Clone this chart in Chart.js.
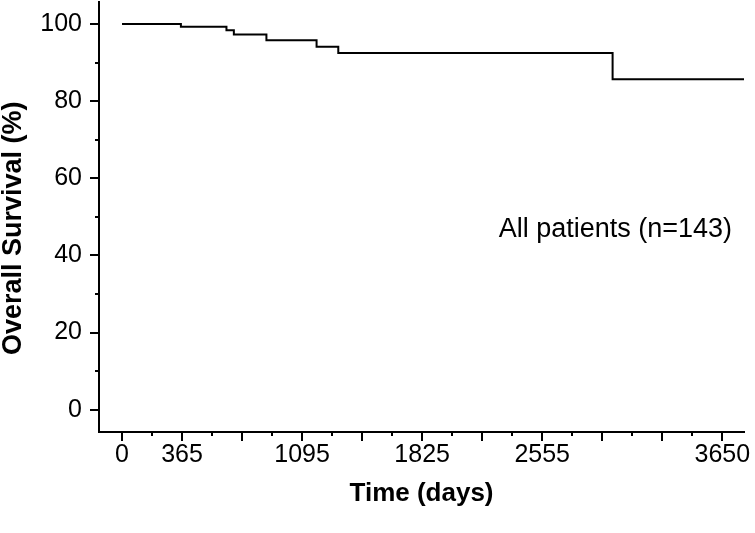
<!DOCTYPE html>
<html>
<head>
<meta charset="utf-8">
<script src="https://cdn.jsdelivr.net/npm/chart.js@4.4.1/dist/chart.umd.min.js"></script>
<style>
    html, body { margin: 0; padding: 0; background: #fff; }
    #wrap { width: 755px; height: 533px; position: relative; }
</style>
</head>
<body>
<div id="wrap"><canvas id="km"></canvas></div>
<script>
// Kaplan-Meier steps (time in days, survival in %)
const times = [0, 358, 635, 680, 878, 1183, 1315, 2983, 3782];
const survival = [100, 99.3, 98.4, 97.3, 95.8, 94.1, 92.5, 85.7, 85.7];

// axis ticks
const xMajorTicks = [0, 365, 730, 1095, 1460, 1825, 2190, 2555, 2920, 3285, 3650];
const xMinorTicks = [182.5, 547.5, 912.5, 1277.5, 1642.5, 2007.5, 2372.5, 2737.5, 3102.5, 3467.5];
const xLabelValues = [0, 365, 1095, 1825, 2555, 3650];
const yMajorTicks = [0, 20, 40, 60, 80, 100];
const yMinorTicks = [10, 30, 50, 70, 90];

const annotationText = "All patients (n=143)";
const annotationAt = [2290, 46.8];

const FONT = "'Liberation Sans', Arial, Helvetica, sans-serif";

// dibuja las marcas de los ejes (mayores y menores) y el texto
const axisMarks = {
    id: 'axisMarks',
    afterDraw(chart) {
        const { ctx, scales: { x, y }, chartArea } = chart;
        ctx.save();
        ctx.strokeStyle = '#000';
        ctx.lineWidth = 2;
        ctx.beginPath();
        xMajorTicks.forEach(v => {
            const px = Math.round(x.getPixelForValue(v));
            ctx.moveTo(px, chartArea.bottom);
            ctx.lineTo(px, chartArea.bottom + 9);
        });
        xMinorTicks.forEach(v => {
            const px = Math.round(x.getPixelForValue(v));
            ctx.moveTo(px, chartArea.bottom);
            ctx.lineTo(px, chartArea.bottom + 4);
        });
        yMajorTicks.forEach(v => {
            const py = Math.round(y.getPixelForValue(v));
            ctx.moveTo(chartArea.left, py);
            ctx.lineTo(chartArea.left - 9, py);
        });
        yMinorTicks.forEach(v => {
            const py = Math.round(y.getPixelForValue(v));
            ctx.moveTo(chartArea.left, py);
            ctx.lineTo(chartArea.left - 4, py);
        });
        ctx.stroke();

        ctx.fillStyle = '#000';
        ctx.font = "27px " + FONT;
        ctx.textAlign = 'left';
        ctx.textBaseline = 'middle';
        ctx.fillText(annotationText, x.getPixelForValue(annotationAt[0]), y.getPixelForValue(annotationAt[1]));
        ctx.restore();
    }
};

new Chart(document.getElementById('km'), {
    type: 'line',
    data: {
        datasets: [{
            label: 'All patients',
            data: times.map((t, i) => ({ x: t, y: survival[i] })),
            stepped: true,
            borderColor: '#000',
            borderWidth: 2,
            pointRadius: 0,
            fill: false
        }]
    },
    options: {
        responsive: true,
        maintainAspectRatio: false,
        animation: false,
        layout: { padding: { top: 2, right: 11, left: 0, bottom: 0 } },
        plugins: {
            legend: { display: false },
            tooltip: { enabled: false }
        },
        scales: {
            x: {
                type: 'linear',
                min: -140,
                max: 3782,
                afterBuildTicks: s => { s.ticks = xMajorTicks.map(v => ({ value: v })); },
                afterFit: s => { s.height = 101; s.paddingLeft = 0; s.paddingRight = 0; },
                grid: { display: false, drawTicks: true, tickLength: 8 },
                border: { display: true, color: '#000', width: 2 },
                ticks: {
                    autoSkip: false,
                    maxRotation: 0,
                    padding: 0,
                    color: '#000',
                    font: { family: FONT, size: 25 },
                    callback: v => xLabelValues.includes(v) ? String(v) : ''
                },
                title: {
                    display: true,
                    text: 'Time (days)',
                    color: '#000',
                    font: { family: FONT, size: 26, weight: 'bold', lineHeight: 1 },
                    padding: { top: 0, bottom: 26 }
                }
            },
            y: {
                min: -5.8,
                max: 105.7,
                afterBuildTicks: s => { s.ticks = yMajorTicks.map(v => ({ value: v })); },
                afterFit: s => { s.width = 99; s.paddingTop = 0; s.paddingBottom = 0; },
                grid: { display: false, drawTicks: true, tickLength: 8 },
                border: { display: true, color: '#000', width: 2 },
                ticks: {
                    padding: 9,
                    color: '#000',
                    font: { family: FONT, size: 25 }
                },
                title: {
                    display: true,
                    // espacios al final para bajar el titulo un poco, como en el original
                    text: 'Overall Survival (%)   ',
                    color: '#000',
                    font: { family: FONT, size: 27, weight: 'bold', lineHeight: 1 },
                    padding: { top: 0, bottom: 0 }
                }
            }
        }
    },
    plugins: [axisMarks]
});
</script>
</body>
</html>
